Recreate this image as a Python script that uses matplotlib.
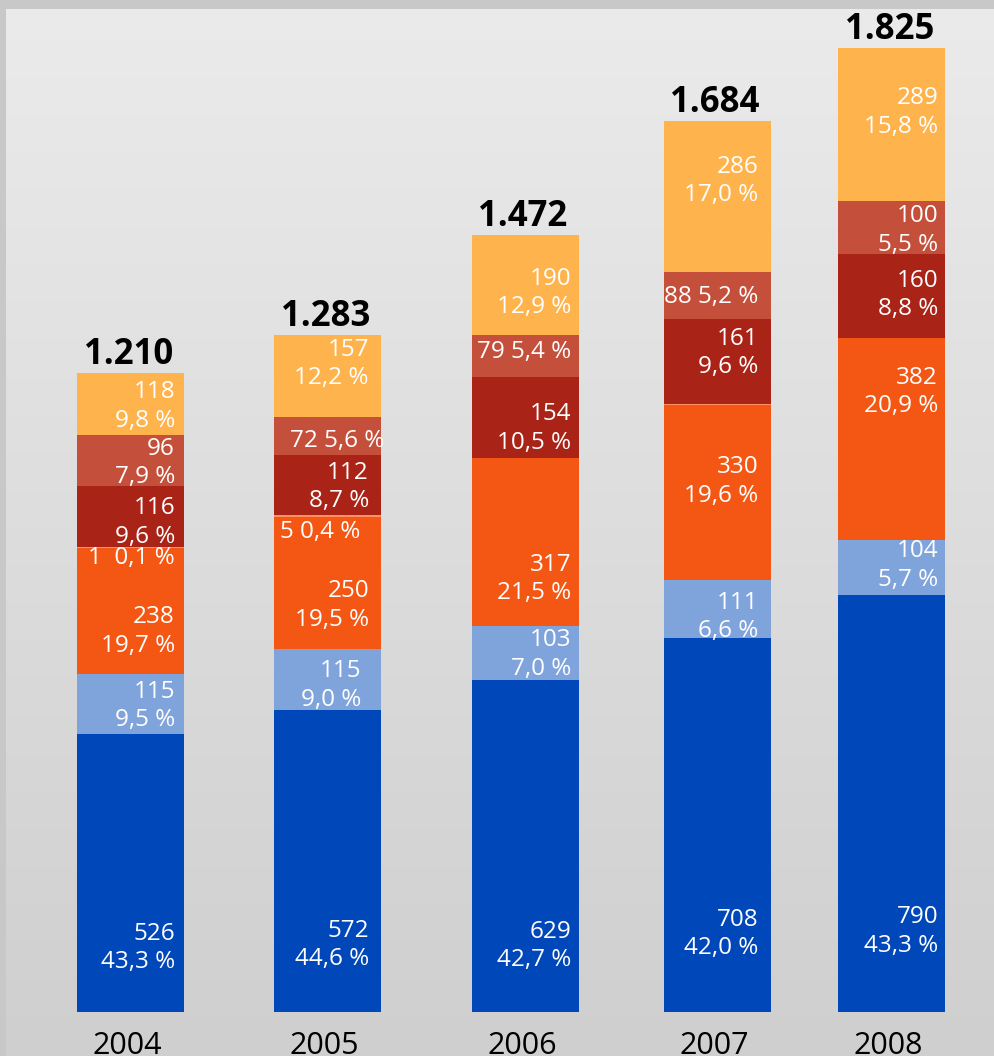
import numpy as np
import matplotlib.pyplot as plt
from matplotlib.colors import LinearSegmentedColormap
from matplotlib.patches import Rectangle

plt.rcParams['font.family'] = ['Open Sans', 'DejaVu Sans']

years = ["2004", "2005", "2006", "2007", "2008"]
totals = [1210, 1283, 1472, 1684, 1825]

# segments, bottom to top
blue = [526, 572, 629, 708, 790]
light_blue = [115, 115, 103, 111, 104]
orange = [238, 250, 317, 330, 382]
salmon = [1, 5, 0, 3, 0]
dark_red = [116, 112, 154, 161, 160]
brick = [96, 72, 79, 88, 100]
yellow = [118, 157, 190, 286, 289]

blue_pct = ["43,3", "44,6", "42,7", "42,0", "43,3"]
light_blue_pct = ["9,5", "9,0", "7,0", "6,6", "5,7"]
orange_pct = ["19,7", "19,5", "21,5", "19,6", "20,9"]
salmon_pct = ["0,1", "0,4", None, None, None]
dark_red_pct = ["9,6", "8,7", "10,5", "9,6", "8,8"]
brick_pct = ["7,9", "5,6", "5,4", "5,2", "5,5"]
yellow_pct = ["9,8", "12,2", "12,9", "17,0", "15,8"]

# layout (pixels)
W, H = 994, 1056
base_px = 44
px_per_unit = 0.528
centers = [130.5, 327.5, 525, 717, 891.5]
bar_w = 107
label_dx = [-9, -12, -7, -12, -7]

series = [
    (blue, blue_pct, "#0047B9", [75, 84, 100, 109, 128], False),
    (light_blue, light_blue_pct, "#7FA3DB", [2, 6, 2, 8, -2], False),
    (orange, orange_pct, "#F45713", [21, 22, 37, -11, -47], False),
    (salmon, salmon_pct, "#FF9160", [10, 16, 0, 0, 0], True),
    (dark_red, dark_red_pct, "#A92317", [6, 2, 11, -8, -1], False),
    (brick, brick_pct, "#C4503B", [2, 5, -4, 1, 3], False),
    (yellow, yellow_pct, "#FFB34C", [2, -12, 8, -16, -12], False),
]
one_line = {(5, 1), (5, 2), (5, 3)}
dx_fix = {(5, 1): 15, (3, 1): -9, (1, 1): -8}

fig = plt.figure(figsize=(W / 100, H / 100), dpi=100)

# background: grey gradient with a darker frame top and left
bg = fig.add_axes([0, 0, 1, 1])
bg.set_xlim(0, W)
bg.axis("off")
grad = np.linspace(0, 1, 256).reshape(-1, 1)
cmap = LinearSegmentedColormap.from_list("bg", ["#EBEBEB", "#CFCFCF"])
bg.imshow(grad, cmap=cmap, aspect="auto", extent=[0, W, H, 0], origin="upper")
bg.set_ylim(H, 0)
bg.add_patch(Rectangle((0, 0), W, 9, color="#C8C8C8", lw=0))
bg.add_patch(Rectangle((0, 0), 6, H, color="#C8C8C8", lw=0))

ax = fig.add_axes([0, base_px / H, 1, (H - base_px) / H])
ax.set_xlim(0, W)
ax.set_ylim(0, (H - base_px) / px_per_unit)
ax.patch.set_alpha(0)
ax.axis("off")

bottom = np.zeros(len(years))
for si, (vals, pcts, color, dys, single) in enumerate(series):
    vals = np.array(vals, dtype=float)
    ax.bar(centers, vals, width=bar_w, bottom=bottom, color=color, linewidth=0)
    for i, (v, p) in enumerate(zip(vals, pcts)):
        if p is None:
            continue
        gap = "  " if v < 2 else " "
        if single or (si, i) in one_line:
            txt = f"{int(v)}{gap}{p} %"
        else:
            txt = f"{int(v)}\n{p} %"
        dx = label_dx[i] + dx_fix.get((si, i), 0)
        ax.annotate(txt, xy=(centers[i] + bar_w / 2, bottom[i] + v / 2),
                    xytext=(dx, -dys[i]), textcoords="offset pixels",
                    ha="right", va="center", color="white", fontsize=17.5,
                    linespacing=1.25, multialignment="right")
    bottom += vals

for i, t in enumerate(totals):
    ax.annotate(f"{t:,}".replace(",", "."), xy=(centers[i], bottom[i]),
                xytext=(-2, 9), textcoords="offset pixels",
                ha="center", va="baseline", fontsize=25, fontweight="bold",
                color="black")

for i, y in enumerate(years):
    fig.text((centers[i] - 3) / W, 1.5 / H, y, ha="center", va="baseline",
             fontsize=22, color="black")

fig.savefig("out.png", dpi=100)
